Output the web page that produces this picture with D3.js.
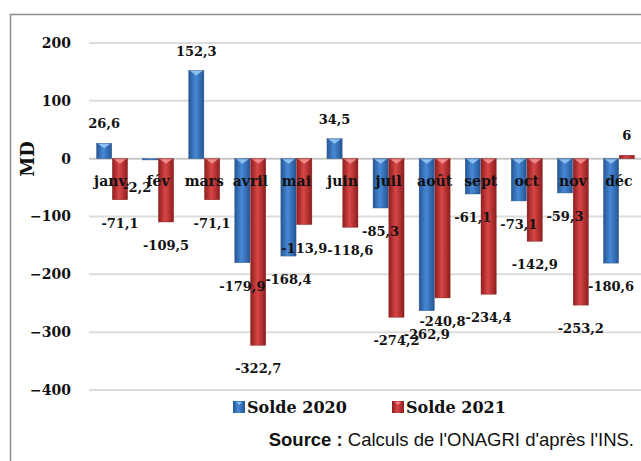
<!DOCTYPE html>
<html>
<head>
<meta charset="utf-8">
<script src="https://cdn.jsdelivr.net/npm/d3@7/dist/d3.min.js"></script>
<style>
  body { margin: 0; background: #fff; }
  svg { display: block; }
</style>
</head>
<body>
<div id="chart"></div>
<script>
// data
var months = ["janv.", "fév", "mars", "avril", "mai", "juin", "juil", "août", "sept", "oct", "nov", "déc"];
var solde2020 = [26.6, -2.2, 152.3, -179.9, -168.4, 34.5, -85.3, -262.9, -61.1, -73.1, -59.3, -180.6];
var solde2021 = [-71.1, -109.5, -71.1, -322.7, -113.9, -118.6, -274.2, -240.8, -234.4, -142.9, -253.2, 6];
var seriesNames = ["Solde 2020", "Solde 2021"];
var yTicks = [200, 100, 0, -100, -200, -300, -400];

w = 641;
h = 461;
var serif = "'DejaVu Serif', serif";

var svg = d3.select("#chart")
  .append("svg")
  .attr("width", w)
  .attr("height", h);

// gradients for the bars
var defs = svg.append("defs");
function grad(id, edge, mid) {
  var g = defs.append("linearGradient").attr("id", id)
    .attr("x1", "0%").attr("x2", "100%").attr("y1", "0%").attr("y2", "0%");
  g.append("stop").attr("offset", "0%").attr("stop-color", edge);
  g.append("stop").attr("offset", "45%").attr("stop-color", mid);
  g.append("stop").attr("offset", "100%").attr("stop-color", edge);
}
grad("g2020", "#275593", "#4689d6");
grad("g2021", "#8f1e1e", "#d84646");
var capColor = ["#8cc0f0", "#f08a8a"];
var fills = ["url(#g2020)", "url(#g2021)"];

// frame
svg.append("rect")
  .attr("x", 10.5).attr("y", 14.5)
  .attr("width", w + 20).attr("height", h + 20)
  .attr("fill", "none")
  .attr("stroke", "#8c8c8c")
  .attr("stroke-width", 1.5);

var y = d3.scaleLinear().domain([-400, 200]).range([390, 43]);
var x0 = d3.scaleBand().domain(months).range([89, 642]).paddingInner(0.3).paddingOuter(0.15);
var x1 = d3.scaleBand().domain([0, 1]).range([0, x0.bandwidth()]).padding(0.04);

// gridlines
svg.selectAll("line.grid")
  .data(yTicks)
  .enter().append("line")
  .attr("class", "grid")
  .attr("x1", 89).attr("x2", w)
  .attr("y1", function(d) { return y(d); })
  .attr("y2", function(d) { return y(d); })
  .attr("stroke", function(d) { return d == 0 ? "#c8c8c8" : "#dcdcdc"; })
  .attr("stroke-width", 2);

// y axis labels (no axis line, Excel style)
var yAxis = d3.axisLeft(y).tickValues(yTicks).tickSize(0).tickPadding(0);
var ga = svg.append("g").attr("transform", "translate(71,0)").call(yAxis);
ga.select(".domain").remove();
ga.selectAll("text")
  .attr("font-family", serif)
  .attr("font-weight", "bold")
  .attr("font-size", "14px")
  .attr("fill", "#111");

svg.append("text")
  .attr("transform", "translate(34,159) rotate(-90)")
  .attr("text-anchor", "middle")
  .attr("font-family", serif)
  .attr("font-weight", "bold")
  .attr("font-size", "18px")
  .attr("fill", "#111")
  .text("MD");

// build bar data
var bars = [];
months.forEach(function(m, i) {
  bars.push({ month: m, s: 0, value: solde2020[i] });
  bars.push({ month: m, s: 1, value: solde2021[i] });
});

function bx(d) { return x0(d.month) + x1(d.s); }

var gb = svg.append("g");
gb.selectAll("rect.bar")
  .data(bars)
  .enter().append("rect")
  .attr("class", "bar")
  .attr("x", bx)
  .attr("y", function(d) { return y(Math.max(0, d.value)); })
  .attr("width", x1.bandwidth())
  .attr("height", function(d) { return Math.abs(y(d.value) - y(0)); })
  .attr("fill", function(d) { return fills[d.s]; })
  .attr("stroke", function(d) { return d.s == 0 ? "#2a5485" : "#7d1c1c"; })
  .attr("stroke-width", 0.4);

// little bevel cap at the top of each bar
gb.selectAll("path.cap")
  .data(bars.filter(function(d) { return Math.abs(y(d.value) - y(0)) > 5; }))
  .enter().append("path")
  .attr("class", "cap")
  .attr("d", function(d) {
    var x = bx(d), bw = x1.bandwidth(), t = y(Math.max(0, d.value));
    return "M" + (x + 1.5) + "," + (t + 0.5) + "L" + (x + bw - 1.5) + "," + (t + 0.5) +
      "L" + (x + bw / 2) + "," + (t + 5) + "Z";
  })
  .attr("fill", function(d) { return capColor[d.s]; });

// category labels
svg.selectAll("text.cat")
  .data(months)
  .enter().append("text")
  .attr("class", "cat")
  .attr("x", function(d) { return x0(d) + x0.bandwidth() / 2; })
  .attr("y", 186)
  .attr("text-anchor", "middle")
  .attr("font-family", serif)
  .attr("font-weight", "bold")
  .attr("font-size", "14px")
  .attr("fill", "#111")
  .text(function(d) { return d; });

// value labels
var fmt = function(v) { return String(v).replace(".", ","); };
svg.selectAll("text.val")
  .data(bars)
  .enter().append("text")
  .attr("class", "val")
  .attr("x", function(d) {
    var cx = bx(d) + x1.bandwidth() / 2;
    if (d.value < 0 && d.value > -5) cx -= 13;   // tiny fév bar, label pushed left
    return cx;
  })
  .attr("y", function(d) {
    if (d.value < 0 && d.value > -5) return y(d.value) + 32;
    return d.value >= 0 ? y(d.value) - 15 : y(d.value) + 28;
  })
  .attr("text-anchor", "middle")
  .attr("font-family", serif)
  .attr("font-weight", "bold")
  .attr("font-size", "13px")
  .attr("fill", "#111")
  .text(function(d) { return fmt(d.value); });

// legend
var legend = svg.append("g").selectAll("g")
  .data(seriesNames)
  .enter().append("g")
  .attr("transform", function(d, i) { return "translate(" + (233 + i * 159) + ",401)"; });
legend.append("rect")
  .attr("width", 12).attr("height", 12)
  .attr("fill", function(d, i) { return fills[i]; });
legend.append("path")
  .attr("d", "M3,1L9,1L6,4Z")
  .attr("fill", function(d, i) { return capColor[i]; });
legend.append("text")
  .attr("x", 14).attr("y", 12)
  .attr("font-family", serif)
  .attr("font-weight", "bold")
  .attr("font-size", "16px")
  .attr("fill", "#111")
  .text(function(d) { return d; });

// source
var src = svg.append("text")
  .attr("x", 634).attr("y", 446)
  .attr("text-anchor", "end")
  .attr("font-family", "'Liberation Sans', Arial, sans-serif")
  .attr("font-size", "18.5px")
  .attr("fill", "#111");
src.append("tspan").attr("font-weight", "bold").text("Source :");
src.append("tspan").text(" Calculs de l'ONAGRI d'après l'INS.");
</script>
</body>
</html>
